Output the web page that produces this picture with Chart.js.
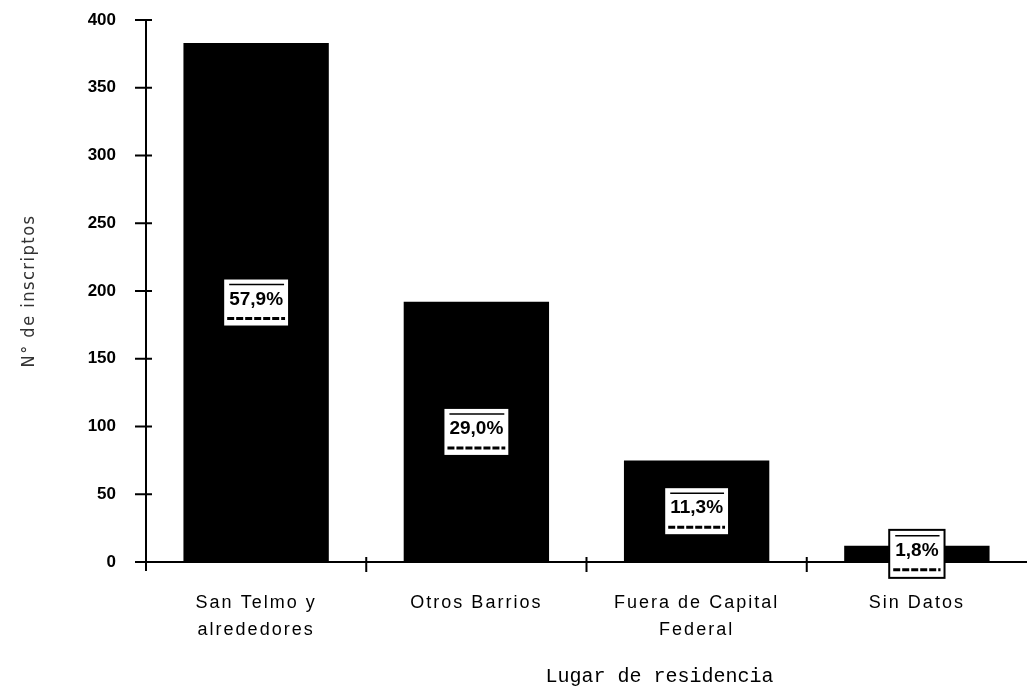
<!DOCTYPE html>
<html>
<head>
<meta charset="utf-8">
<script src="https://cdn.jsdelivr.net/npm/chart.js@4.4.1/dist/chart.umd.min.js"></script>
<style>
  html, body { margin: 0; padding: 0; background: #ffffff; }
  #wrap { width: 1027px; height: 688px; }
</style>
</head>
<body>
<div id="wrap"><canvas id="residenceChart" width="1027" height="688"></canvas></div>
<script>
// Data
const categories = [['San Telmo y', 'alrededores'], 'Otros Barrios', ['Fuera de Capital', 'Federal'], 'Sin Datos'];
const inscriptos = [383, 192, 75, 12];
const pctLabels = ['57,9%', '29,0%', '11,3%', '1,8%'];
const yMin = 0;
const yMax = 400;
const yStep = 50;

// wrap a scale draw method so it runs with its own letter spacing / shift
function styled(chart, scale, method, spacing, dx) {
  const key = '_styled_' + method;
  if (scale[key]) return;
  const orig = scale[method].bind(scale);
  scale[method] = function (...args) {
    const ctx = chart.ctx;
    ctx.save();
    ctx.letterSpacing = spacing;
    if (dx) ctx.translate(dx, 0);
    orig(...args);
    ctx.restore();
  };
  scale[key] = true;
}

const textStyle = {
  id: 'textStyle',
  afterLayout(chart) {
    const x = chart.scales.x;
    const y = chart.scales.y;
    styled(chart, x, 'drawLabels', '2px', 0);
    styled(chart, x, 'drawTitle', '0px', 73);   // title sits right of centre in the scan
    styled(chart, y, 'drawLabels', '0px', 0);
    styled(chart, y, 'drawTitle', '1.5px', 0);
  }
};

// Tick marks that cross the axis lines
const axisTicks = {
  id: 'axisTicks',
  afterDraw(chart) {
    const ctx = chart.ctx;
    const x = chart.scales.x;
    const y = chart.scales.y;
    const half = (x.getPixelForValue(1) - x.getPixelForValue(0)) / 2;
    ctx.save();
    ctx.strokeStyle = '#000';
    ctx.lineWidth = 2;
    ctx.beginPath();
    y.ticks.forEach(t => {
      const py = y.getPixelForValue(t.value);
      ctx.moveTo(y.right - 11, py);
      ctx.lineTo(y.right + 6, py);
    });
    // y axis runs a little below the x axis
    ctx.moveTo(y.right, y.bottom);
    ctx.lineTo(y.right, y.bottom + 9);
    for (let i = 1; i < categories.length; i++) {
      const px = x.getPixelForValue(i) - half;
      ctx.moveTo(px, x.top - 5);
      ctx.lineTo(px, x.top + 10);
    }
    ctx.stroke();
    ctx.restore();
  }
};

// Boxed percentage labels in the middle of each bar
const boxLabels = {
  id: 'boxLabels',
  afterDatasetsDraw(chart) {
    const ctx = chart.ctx;
    const meta = chart.getDatasetMeta(0);
    ctx.save();
    ctx.letterSpacing = '0px';
    ctx.font = 'bold 19px "Liberation Sans", Arial, sans-serif';
    meta.data.forEach((bar, i) => {
      const cx = bar.x;
      const cy = (bar.y + bar.base) / 2;
      const tw = ctx.measureText(pctLabels[i]).width;
      const w = tw + 12;
      const h = 48;
      const left = cx - w / 2;
      const top = cy - h / 2;
      ctx.fillStyle = '#fff';
      ctx.fillRect(left, top, w, h);
      ctx.strokeStyle = '#000';
      ctx.lineWidth = 2;
      ctx.setLineDash([]);
      ctx.strokeRect(left, top, w, h);
      // faint rules left by the scan
      ctx.lineWidth = 1.5;
      ctx.beginPath();
      ctx.moveTo(left + 6, top + 6);
      ctx.lineTo(left + w - 5, top + 6);
      ctx.stroke();
      ctx.lineWidth = 3;
      ctx.setLineDash([7, 2]);
      ctx.beginPath();
      ctx.moveTo(left + 4, top + h - 8);
      ctx.lineTo(left + w - 4, top + h - 8);
      ctx.stroke();
      ctx.setLineDash([]);
      ctx.fillStyle = '#000';
      ctx.textAlign = 'center';
      ctx.textBaseline = 'middle';
      ctx.fillText(pctLabels[i], cx, cy - 3);
    });
    ctx.restore();
  }
};

new Chart(document.getElementById('residenceChart'), {
  type: 'bar',
  data: {
    labels: categories,
    datasets: [{
      data: inscriptos,
      backgroundColor: '#000',
      borderWidth: 0,
      categoryPercentage: 1,
      barPercentage: 0.66
    }]
  },
  options: {
    responsive: false,
    animation: false,
    devicePixelRatio: 1,
    layout: { padding: { top: 20, right: 0, bottom: 0, left: 0 } },
    plugins: {
      legend: { display: false },
      tooltip: { enabled: false }
    },
    scales: {
      x: {
        grid: { display: false, drawTicks: false },
        border: { color: '#000', width: 2 },
        ticks: {
          color: '#000',
          padding: 28,
          maxRotation: 0,
          autoSkip: false,
          font: { family: '"Liberation Sans", Arial, sans-serif', size: 18, lineHeight: 1.5 }
        },
        title: {
          display: true,
          text: 'Lugar de residencia',
          color: '#000',
          padding: 0,
          font: { family: '"Liberation Mono", "Courier New", monospace', size: 20, lineHeight: 1.1 }
        },
        afterFit(scale) { scale.height = 126; }
      },
      y: {
        min: yMin,
        max: yMax,
        grid: { display: false, drawTicks: false },
        border: { color: '#000', width: 2 },
        ticks: {
          stepSize: yStep,
          color: '#000',
          padding: 30,
          font: { family: '"Liberation Sans", Arial, sans-serif', size: 17, weight: 'bold' }
        },
        title: {
          display: true,
          text: 'N° de inscriptos',
          color: '#333',
          padding: { top: 19, bottom: 0 },
          font: { family: '"Liberation Sans Narrow", "DejaVu Sans Condensed", "Liberation Sans", sans-serif', size: 18, weight: '300', lineHeight: 1.2 }
        },
        afterFit(scale) {
          scale.width = 146;
          scale.paddingTop = 0;
          scale.paddingBottom = 0;
        }
      }
    }
  },
  plugins: [textStyle, axisTicks, boxLabels]
});
</script>
</body>
</html>
